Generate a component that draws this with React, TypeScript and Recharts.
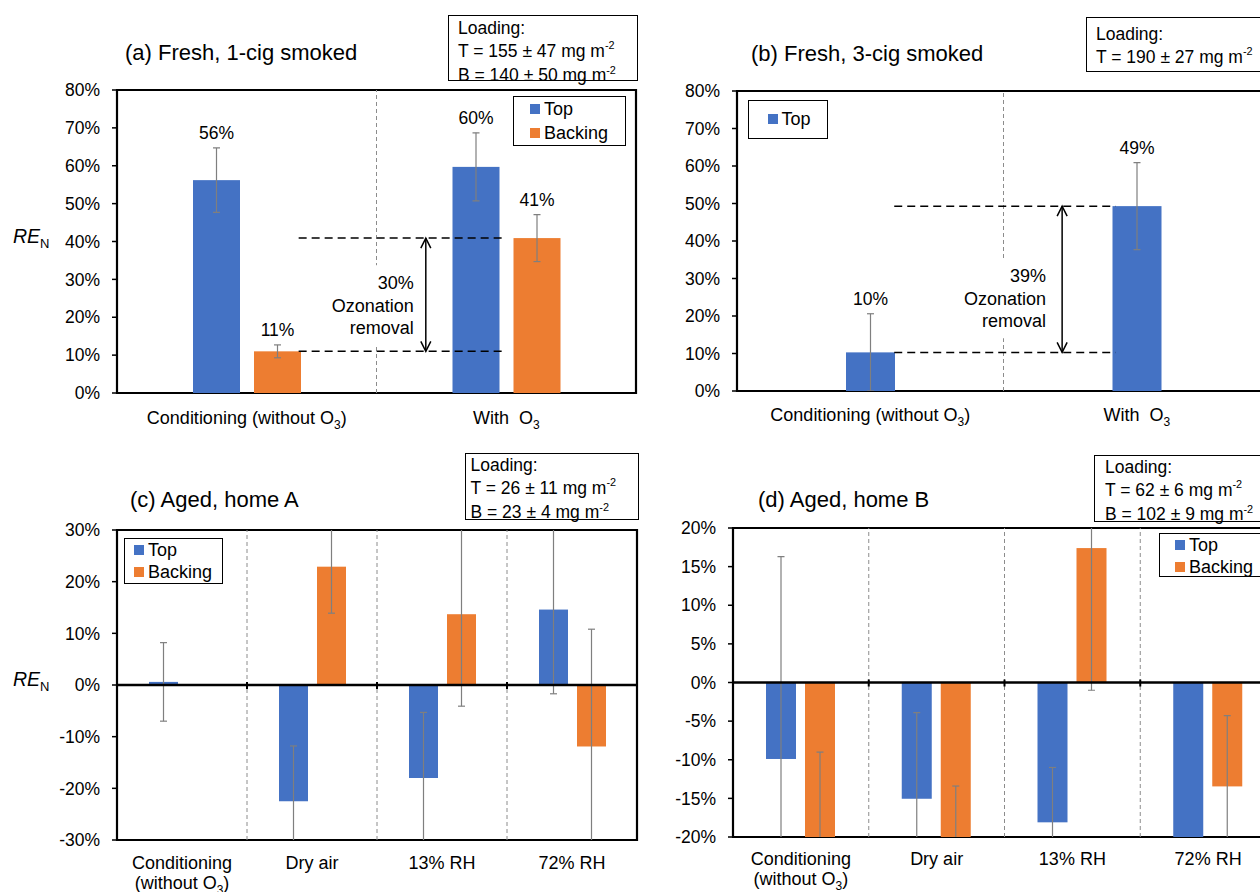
import React from 'react';
import {
  BarChart, Bar, XAxis, YAxis, ReferenceLine, ReferenceArea, ReferenceDot, LabelList, Legend,
} from 'recharts';

const BLUE = '#4472C4';
const ORANGE = '#ED7D31';
const ERR = '#7F7F7F';
const SEP = '#8C8C8C';
const FONT = '"Liberation Sans", Arial, Helvetica, sans-serif';

// ---------- Panel (a) Fresh, 1-cig smoked ----------
const catsA = ['Conditioning (without O₃)', 'With  O₃'];
const topA = [56.2, 59.7];
const topErrA = [8.5, 9.0];
const backA = [11.0, 40.9];
const backErrA = [1.7, 6.2];

// ---------- Panel (b) Fresh, 3-cig smoked ----------
const catsB = ['Conditioning (without O₃)', 'With  O₃'];
const topB = [10.3, 49.3];
const topErrB = [10.3, 11.6];

// ---------- Panel (c) Aged, home A ----------
const catsC = ['Conditioning\n(without O₃)', 'Dry air', '13% RH', '72% RH'];
const topC = [0.6, -22.5, -18.0, 14.6];
const topErrC = [7.6, 10.7, 12.7, 16.3];
const backC: (number | null)[] = [null, 22.9, 13.7, -11.9];
const backErrC: (number | null)[] = [null, 9.0, 17.8, 22.7];

// ---------- Panel (d) Aged, home B ----------
const catsD = ['Conditioning\n(without O₃)', 'Dry air', '13% RH', '72% RH'];
const topD = [-9.9, -15.05, -18.1, -28.0];
const topErrD = [26.2, 11.15, 7.1, 6.0];
const backD = [-25.0, -27.0, 17.4, -13.45];
const backErrD = [16.0, 13.6, 18.4, 9.15];

// ---------- Axis ticks ----------
const ticksFresh = [0, 10, 20, 30, 40, 50, 60, 70, 80];
const ticksC = [-30, -20, -10, 0, 10, 20, 30];
const ticksD = [-20, -15, -10, -5, 0, 5, 10, 15, 20];

const LEGEND_ORDER = ['Top', 'Backing'];

// slot = index of the category (0.5 = middle of the first category), used by a
// hidden numeric axis to place category boundaries and annotations.
const rowsOf = (cats: string[], top: any[], topErr: any[], back?: any[], backErr?: any[]) =>
  cats.map((cat, i) => ({
    cat,
    slot: i + 0.5,
    top: top[i],
    topErr: topErr[i],
    ...(back ? { back: back[i], backErr: backErr ? backErr[i] : null } : {}),
  }));

const renderSub = (s: string) => {
  const parts = s.split('₃');
  const out: any[] = [];
  parts.forEach((p, i) => {
    if (i > 0) {
      out.push(<tspan key={'s' + i} dy={5} fontSize={12}>3</tspan>);
      out.push(<tspan key={'r' + i} dy={-5}>{p}</tspan>);
    } else {
      out.push(<tspan key={'p' + i}>{p}</tspan>);
    }
  });
  return out;
};

const CatTick = (props: any) => {
  const { x, y, payload } = props;
  const lines = String(payload.value).split('\n');
  return (
    <text x={x} y={y} textAnchor="middle" fontSize={18} fill="#000" fontFamily={FONT} style={{ whiteSpace: 'pre' }}>
      {lines.map((ln, i) => (
        <tspan key={i} x={x} dy={i === 0 ? '0.71em' : 20.5}>{renderSub(ln)}</tspan>
      ))}
    </text>
  );
};

const EmptyTick = () => <g />;

// geometry helper: from a bar's rectangle and its value, the pixel size of one unit
function barGeom(p: any, key: string) {
  const v = Number(p.payload?.[key]);
  const h = Number(p.height) || 0;
  const top = Math.min(p.y, p.y + h);
  const bottom = Math.max(p.y, p.y + h);
  const absH = Math.abs(h);
  const ppu = v !== 0 && isFinite(v) ? absH / Math.abs(v) : 0;
  const end = v >= 0 ? top : bottom;
  return { v, top, bottom, absH, ppu, end };
}

// Bar with its error bar (drawn inside the bar's clipped layer so that it is cut at the plot edge)
function makeBarShape(key: string, errKey: string, fill: string) {
  return function BarShape(p: any) {
    const { x, width } = p;
    const g = barGeom(p, key);
    if (!isFinite(g.v)) return <g />;
    const e = Number(p.payload?.[errKey]) || 0;
    const cx = x + width / 2;
    const yHi = g.end - e * g.ppu;
    const yLo = g.end + e * g.ppu;
    return (
      <g>
        <rect x={x} y={g.top} width={width} height={g.absH} fill={fill} />
        {e > 0 && (
          <g stroke={ERR} strokeWidth={1.2}>
            <line x1={cx} x2={cx} y1={yHi} y2={yLo} />
            <line x1={cx - 3.5} x2={cx + 3.5} y1={yHi} y2={yHi} />
            <line x1={cx - 3.5} x2={cx + 3.5} y1={yLo} y2={yLo} />
          </g>
        )}
      </g>
    );
  };
}

function makeValueLabel(values: number[], errs: number[]) {
  return function ValueLabel(p: any) {
    const vb = p.viewBox || {};
    const x = p.x ?? vb.x;
    const y = p.y ?? vb.y;
    const w = p.width ?? vb.width;
    const h = p.height ?? vb.height;
    const v = Number(p.value);
    if (!isFinite(v) || !h || v === 0) return null;
    const idx = p.index ?? values.indexOf(v);
    const ppu = Math.abs(h) / Math.abs(v);
    const topPx = Math.min(y, y + h);
    const e = errs[idx] ?? 0;
    const cy = topPx - e * ppu - 15;
    return (
      <text x={x + w / 2} y={cy} dy="0.36em" textAnchor="middle" fontSize={17.5} fill="#000" fontFamily={FONT}>
        {Math.round(v)}%
      </text>
    );
  };
}

function makeArrow(lines: string[], gap: number, shift: number) {
  return function Arrow(p: any) {
    const x = p.x1;
    const yA = Math.min(p.y1, p.y2);
    const yB = Math.max(p.y1, p.y2);
    const mid = (yA + yB) / 2 + shift;
    const right = x - gap;
    const lh = 22.5;
    return (
      <g>
        <rect x={right - 92} y={mid - 40} width={96} height={80} fill="#fff" />
        {lines.map((t, i) => (
          <text key={i} x={right} y={mid + (i - 1) * lh} dy="0.36em" textAnchor="end" fontSize={18} fill="#000" fontFamily={FONT}>
            {t}
          </text>
        ))}
        <line x1={x} x2={x} y1={yA} y2={yB} stroke="#000" strokeWidth={1.5} />
        <polyline points={`${x - 5},${yA + 10} ${x},${yA} ${x + 5},${yA + 10}`} fill="none" stroke="#000" strokeWidth={1.5} />
        <polyline points={`${x - 5},${yB - 10} ${x},${yB} ${x + 5},${yB - 10}`} fill="none" stroke="#000" strokeWidth={1.5} />
      </g>
    );
  };
}

const ZeroTick = (p: any) => (
  <line x1={p.cx} x2={p.cx} y1={p.cy - 3} y2={p.cy + 4} stroke="#000" strokeWidth={2} />
);

function makeLegend(cfg: any) {
  return function LegendBox(props: any) {
    const payload = [...(props.payload || [])].sort(
      (a: any, b: any) => LEGEND_ORDER.indexOf(a.value) - LEGEND_ORDER.indexOf(b.value),
    );
    return (
      <div
        style={{
          width: cfg.w, height: cfg.h, border: '1.5px solid #000', boxSizing: 'border-box', background: '#fff',
          paddingLeft: cfg.padL, paddingTop: cfg.padT, fontFamily: FONT, fontSize: 18, color: '#000',
        }}
      >
        {payload.map((it: any) => (
          <div key={it.value} style={{ display: 'flex', alignItems: 'center', height: cfg.rowH }}>
            <span style={{ width: 10, height: 10, background: it.color, marginRight: 4, display: 'inline-block' }} />
            <span style={{ lineHeight: 1 }}>{it.value}</span>
          </div>
        ))}
      </div>
    );
  };
}

interface SeriesCfg { key: string; errKey: string; name: string; color: string; values: any[]; errs: any[] }

function Panel(cfg: any) {
  const n = cfg.data.length;
  const seps = Array.from({ length: n - 1 }, (_, i) => i + 1);
  const ann = cfg.annotation;
  return (
    <div style={{ position: 'absolute', left: cfg.left, top: cfg.top, fontFamily: FONT }}>
      <BarChart
        width={cfg.width}
        height={cfg.height}
        data={cfg.data}
        margin={cfg.margin}
        barSize={cfg.barSize}
        barGap={cfg.barGap}
      >
        <XAxis
          xAxisId="pos"
          dataKey="slot"
          type="number"
          domain={[0, n]}
          allowDataOverflow
          ticks={Array.from({ length: n + 1 }, (_, i) => i)}
          interval={0}
          height={0}
          axisLine={false}
          tickLine={cfg.boundaryTicksBottom ? { stroke: '#000', strokeWidth: 2 } : false}
          tickSize={6}
          tick={EmptyTick}
          hide={!cfg.boundaryTicksBottom}
        />
        <XAxis
          xAxisId="cat"
          dataKey="cat"
          type="category"
          interval={0}
          height={cfg.xAxisHeight}
          axisLine={false}
          tickLine={false}
          tickSize={0}
          tickMargin={cfg.tickMargin}
          tick={CatTick}
        />
        <YAxis
          domain={cfg.domain}
          ticks={cfg.yTicks}
          interval={0}
          allowDataOverflow
          tickFormatter={(v: number) => `${v}%`}
          axisLine={false}
          tickLine={{ stroke: '#000', strokeWidth: 1.5 }}
          tickSize={5}
          tickMargin={12}
          width={60}
          tick={{ fontSize: 17.5, fill: '#000', fontFamily: FONT }}
        />
        {seps.map((s) => (
          <ReferenceLine key={'sep' + s} xAxisId="pos" x={s} stroke={SEP} strokeWidth={1} strokeDasharray="4 3" />
        ))}
        {ann && (
          <ReferenceLine
            xAxisId="pos"
            segment={[{ x: ann.arrowX, y: ann.high }, { x: ann.arrowX, y: ann.low }]}
            shape={makeArrow([`${Math.round(ann.high - ann.low)}%`, 'Ozonation', 'removal'], ann.gap, ann.shift)}
          />
        )}
        {ann && (
          <ReferenceLine
            xAxisId="pos"
            segment={[{ x: ann.x1, y: ann.high }, { x: ann.x2, y: ann.high }]}
            stroke="#000" strokeWidth={1.5} strokeDasharray="8 5"
          />
        )}
        {ann && (
          <ReferenceLine
            xAxisId="pos"
            segment={[{ x: ann.x1, y: ann.low }, { x: ann.x2, y: ann.low }]}
            stroke="#000" strokeWidth={1.5} strokeDasharray="8 5"
          />
        )}
        {cfg.series.map((s: SeriesCfg) => (
          <Bar
            key={s.key}
            xAxisId="cat"
            dataKey={s.key}
            name={s.name}
            fill={s.color}
            isAnimationActive={false}
            shape={makeBarShape(s.key, s.errKey, s.color)}
          >
            {cfg.valueLabels && <LabelList dataKey={s.key} content={makeValueLabel(s.values, s.errs)} />}
          </Bar>
        ))}
        {cfg.zeroLine && <ReferenceLine xAxisId="pos" y={0} stroke="#000" strokeWidth={2.5} />}
        {cfg.zeroLine && seps.map((s) => (
          <ReferenceDot key={'zt' + s} xAxisId="pos" x={s} y={0} shape={ZeroTick} />
        ))}
        <ReferenceArea
          xAxisId="pos"
          x1={0} x2={n} y1={cfg.domain[0]} y2={cfg.domain[1]}
          fill="none" fillOpacity={0} stroke="#000" strokeWidth={2.2}
        />
        <Legend
          layout="vertical"
          align="center"
          verticalAlign="middle"
          content={makeLegend(cfg.legend)}
          wrapperStyle={{ position: 'absolute', left: cfg.legend.x, top: cfg.legend.y, width: cfg.legend.w, height: cfg.legend.h }}
        />
      </BarChart>
    </div>
  );
}

const Sup = ({ children }: any) => (
  <span style={{ fontSize: '0.62em', position: 'relative', top: '-0.65em' }}>{children}</span>
);

const LoadingBox = ({ x, y, w, h, padL, padT, lines }: any) => (
  <div
    style={{
      position: 'absolute', left: x, top: y, width: w, height: h, border: '1.5px solid #000', boxSizing: 'border-box',
      paddingLeft: padL, paddingTop: padT, fontFamily: FONT, fontSize: 17.5, lineHeight: '22.5px', color: '#000',
      background: '#fff', whiteSpace: 'nowrap',
    }}
  >
    {lines.map((l: any, i: number) => (
      <div key={i}>{l}</div>
    ))}
  </div>
);

const Title = ({ x, y, text }: any) => (
  <div style={{ position: 'absolute', left: x, top: y - 13, fontFamily: FONT, fontSize: 22, lineHeight: '26px', color: '#000', whiteSpace: 'nowrap' }}>
    {text}
  </div>
);

const YLabel = ({ x, y }: any) => (
  <div style={{ position: 'absolute', left: x, top: y - 12, fontFamily: FONT, fontSize: 19.5, lineHeight: '24px', color: '#000' }}>
    <i>RE</i>
    <span style={{ fontSize: 13, position: 'relative', top: 5 }}>N</span>
  </div>
);

export default function App() {
  const dataA = rowsOf(catsA, topA, topErrA, backA, backErrA);
  const dataB = rowsOf(catsB, topB, topErrB);
  const dataC = rowsOf(catsC, topC, topErrC, backC, backErrC);
  const dataD = rowsOf(catsD, topD, topErrD, backD, backErrD);

  const seriesTB = (top: any[], topErr: any[], back: any[], backErr: any[]): SeriesCfg[] => [
    { key: 'top', errKey: 'topErr', name: 'Top', color: BLUE, values: top, errs: topErr },
    { key: 'back', errKey: 'backErr', name: 'Backing', color: ORANGE, values: back, errs: backErr },
  ];

  return (
    <div style={{ position: 'absolute', left: 0, top: 0, width: 1260, height: 892, overflow: 'hidden', background: '#fff' }}>
      <Panel
        left={0} top={0} width={640} height={440}
        margin={{ top: 90, right: 4, bottom: 17, left: 57 }}
        xAxisHeight={30} tickMargin={18}
        data={dataA} domain={[0, 80]} yTicks={ticksFresh}
        barSize={47} barGap={14}
        boundaryTicksBottom zeroLine={false} valueLabels
        series={seriesTB(topA, topErrA, backA, backErrA)}
        legend={{ x: 513, y: 96, w: 113, h: 50, padL: 16, padT: 0, rowH: 24 }}
        annotation={{ x1: 0.7, x2: 1.5, arrowX: 1.19, low: backA[0], high: backA[1], gap: 12, shift: 10.5 }}
      />
      <Panel
        left={640} top={0} width={640} height={440}
        margin={{ top: 91, right: 10, bottom: 19, left: 37 }}
        xAxisHeight={30} tickMargin={17}
        data={dataB} domain={[0, 80]} yTicks={ticksFresh}
        barSize={49} barGap={0}
        boundaryTicksBottom zeroLine={false} valueLabels
        series={[{ key: 'top', errKey: 'topErr', name: 'Top', color: BLUE, values: topB, errs: topErrB }]}
        legend={{ x: 107.5, y: 100, w: 80.5, h: 39, padL: 19, padT: 5, rowH: 26 }}
        annotation={{ x1: 0.59, x2: 1.42, arrowX: 1.22, low: topB[0], high: topB[1], gap: 16, shift: 19 }}
      />
      <Panel
        left={0} top={440} width={640} height={452}
        margin={{ top: 90, right: 3, bottom: 0, left: 57 }}
        xAxisHeight={52} tickMargin={16}
        data={dataC} domain={[-30, 30]} yTicks={ticksC}
        barSize={29} barGap={9}
        boundaryTicksBottom={false} zeroLine valueLabels={false}
        series={seriesTB(topC, topErrC, backC, backErrC)}
        legend={{ x: 124, y: 98, w: 98.5, h: 46, padL: 9, padT: 0, rowH: 22 }}
      />
      <Panel
        left={640} top={440} width={640} height={452}
        margin={{ top: 88, right: 4, bottom: 0, left: 33 }}
        xAxisHeight={55} tickMargin={15}
        data={dataD} domain={[-20, 20]} yTicks={ticksD}
        barSize={30} barGap={9}
        boundaryTicksBottom={false} zeroLine valueLabels={false}
        series={seriesTB(topD, topErrD, backD, backErrD)}
        legend={{ x: 519, y: 93, w: 112, h: 44, padL: 15, padT: 0, rowH: 22 }}
      />

      <Title x={125} y={53} text="(a) Fresh, 1-cig smoked" />
      <Title x={751} y={54} text="(b) Fresh, 3-cig smoked" />
      <Title x={130} y={500} text="(c) Aged, home A" />
      <Title x={758} y={500} text="(d) Aged, home B" />

      <YLabel x={13} y={236} />
      <YLabel x={13} y={679} />

      <LoadingBox x={448} y={15} w={190} h={66} padL={9} padT={1}
        lines={['Loading:', <>T = 155 ± 47 mg m<Sup>-2</Sup></>, <>B = 140 ± 50 mg m<Sup>-2</Sup></>]} />
      <LoadingBox x={1086} y={17} w={200} h={55} padL={9} padT={5}
        lines={['Loading:', <>T = 190 ± 27 mg m<Sup>-2</Sup></>]} />
      <LoadingBox x={464.5} y={453} w={174} h={67} padL={5} padT={0}
        lines={['Loading:', <>T = 26 ± 11 mg m<Sup>-2</Sup></>, <>B = 23 ± 4 mg m<Sup>-2</Sup></>]} />
      <LoadingBox x={1094} y={455} w={200} h={67} padL={10} padT={0}
        lines={['Loading:', <>T = 62 ± 6 mg m<Sup>-2</Sup></>, <>B = 102 ± 9 mg m<Sup>-2</Sup></>]} />
    </div>
  );
}
